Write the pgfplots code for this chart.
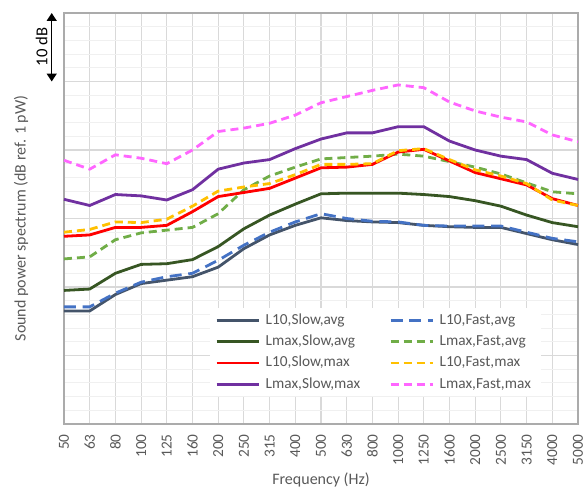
\documentclass[border=0pt]{standalone}
\usepackage{fontspec}
\setmainfont{Carlito}
\usepackage{pgfplots}
\pgfplotsset{compat=1.18}
\usepackage{pgfplotstable}
\usetikzlibrary{arrows.meta}

\definecolor{cSlate}{HTML}{44546A}
\definecolor{cBlue}{HTML}{4472C4}
\definecolor{cDkGreen}{HTML}{375623}
\definecolor{cGreen}{HTML}{70AD47}
\definecolor{cRed}{HTML}{FF0000}
\definecolor{cOrange}{HTML}{FFC000}
\definecolor{cPurple}{HTML}{7030A0}
\definecolor{cPink}{HTML}{FF66FF}
\definecolor{gridmaj}{HTML}{D9D9D9}
\definecolor{gridmin}{HTML}{F0F0F0}
\definecolor{axisgray}{HTML}{ABABAB}
\definecolor{labelgray}{HTML}{595959}

\pgfplotstableread{
idx L10SA L10FA LmaxSA LmaxFA L10SM L10FM LmaxSM LmaxFM
0  16.5 17.1 19.5 24.1 27.4 28.0 32.8 38.5
1  16.5 17.1 19.7 24.4 27.6 28.4 31.9 37.2
2  18.9 19.1 22.0 26.9 28.7 29.5 33.5 39.3
3  20.5 20.7 23.3 27.9 28.7 29.4 33.3 38.8
4  21.0 21.5 23.4 28.3 29.0 29.9 32.7 38.0
5  21.5 22.0 24.0 28.7 31.0 31.8 34.2 40.0
6  22.9 23.9 25.9 30.7 33.2 34.0 37.2 42.7
7  25.6 26.1 28.5 34.2 33.8 34.6 38.1 43.2
8  27.6 28.0 30.5 36.2 34.4 35.1 38.6 43.9
9  29.0 29.5 32.1 37.5 35.9 36.4 40.2 45.1
10 30.1 30.7 33.6 38.7 37.4 37.9 41.6 46.9
11 29.7 30.0 33.7 38.9 37.5 37.9 42.5 47.8
12 29.5 29.6 33.7 39.1 37.9 38.0 42.5 48.7
13 29.4 29.5 33.7 39.4 39.7 39.9 43.4 49.5
14 29.0 29.0 33.5 39.1 40.1 40.2 43.4 49.1
15 28.8 28.9 33.2 38.3 38.4 38.6 41.3 47.0
16 28.7 28.9 32.6 37.5 36.7 37.1 40.0 45.7
17 28.7 28.9 31.8 36.5 35.8 36.2 39.1 44.8
18 27.8 28.0 30.5 35.2 34.9 35.1 38.6 44.1
19 26.9 27.1 29.4 33.9 32.9 32.7 36.6 42.2
20 26.2 26.6 28.8 33.6 31.9 31.9 35.7 41.2
}\data

\begin{document}
\begin{tikzpicture}
\begin{axis}[
  scale only axis,
  width=385.5bp, height=308.25bp,
  xmin=0, xmax=20, ymin=0, ymax=60,
  clip=false,
  xtick={0,...,20},
  xticklabels={50,63,80,100,125,160,200,250,315,400,500,630,800,1000,1250,1600,2000,2500,3150,4000,5000},
  ytick={0,10,...,60}, yticklabels={},
  minor y tick num=4,
  major tick length=0pt, minor tick length=0pt,
  xmajorgrids, ymajorgrids, yminorgrids,
  major grid style={draw=gridmaj, line width=0.8bp},
  minor grid style={draw=gridmin, line width=0.8bp},
  axis line style={draw=axisgray, line width=1bp},
  xticklabel style={rotate=90, anchor=east, inner sep=0pt,
    font=\fontsize{11.5bp}{13bp}\selectfont, text=labelgray},
  xticklabel shift=7.5bp,
  xlabel={Frequency (Hz)},
  ylabel={Sound power spectrum (dB ref. 1 pW)},
  xlabel style={at={(axis description cs:0.5,-0.1363)}, anchor=center,
    font=\fontsize{12bp}{14bp}\selectfont, text=labelgray},
  ylabel style={at={(axis description cs:-0.0837,0.5)}, anchor=center, rotate=0,
    font=\fontsize{12bp}{14bp}\selectfont, text=labelgray},
  legend columns=2,
  legend cell align=left,
  legend image code/.code={\draw[line width=2.1bp,#1] (0bp,0bp) -- (32bp,0bp);},
  legend style={at={(axis description cs:0.284,0.282)}, anchor=north west,
    draw=none, fill=white, inner xsep=3.75bp, inner ysep=1bp,
    font=\fontsize{11.5bp}{13bp}\selectfont, text=labelgray,
    nodes={text height=8.3bp, text depth=2.7bp, inner ysep=2.5bp, inner xsep=3.75bp},
    row sep=0pt,
    /tikz/every even column/.append style={column sep=18bp}},
]
\addplot[cSlate, line width=2.1bp, no markers] table[x=idx, y=L10SA] {\data};
\addlegendentry{L10,Slow,avg}
\addplot[cBlue, line width=2.1bp, no markers, dash pattern=on 9bp off 5bp] table[x=idx, y=L10FA] {\data};
\addlegendentry{L10,Fast,avg}
\addplot[cDkGreen, line width=2.1bp, no markers] table[x=idx, y=LmaxSA] {\data};
\addlegendentry{Lmax,Slow,avg}
\addplot[cGreen, line width=2.1bp, no markers, dash pattern=on 6bp off 3.75bp] table[x=idx, y=LmaxFA] {\data};
\addlegendentry{Lmax,Fast,avg}
\addplot[cRed, line width=2.1bp, no markers] table[x=idx, y=L10SM] {\data};
\addlegendentry{L10,Slow,max}
\addplot[cOrange, line width=2.1bp, no markers, dash pattern=on 6bp off 3.75bp] table[x=idx, y=L10FM] {\data};
\addlegendentry{L10,Fast,max}
\addplot[cPurple, line width=2.1bp, no markers] table[x=idx, y=LmaxSM] {\data};
\addlegendentry{Lmax,Slow,max}
\addplot[cPink, line width=2.1bp, no markers, dash pattern=on 6bp off 3.75bp] table[x=idx, y=LmaxFM] {\data};
\addlegendentry{Lmax,Fast,max}

\draw[line width=1.1bp, {Triangle[length=6bp,width=7.5bp]}-{Triangle[length=6bp,width=7.5bp]}]
  (rel axis cs:-0.0239,0.8333) -- (rel axis cs:-0.0239,1);
\node[rotate=90, font=\fontsize{12.5bp}{14bp}\selectfont, text=black]
  at (rel axis cs:-0.0434,0.917) {10 dB};
\coordinate (SW) at (rel axis cs:0,0);
\coordinate (NE) at (rel axis cs:1,1);
\end{axis}
\pgfresetboundingbox
\path ([shift={(-48bp,-50.25bp)}]SW) rectangle ([shift={(5.25bp,9.75bp)}]NE);
\end{tikzpicture}
\end{document}
